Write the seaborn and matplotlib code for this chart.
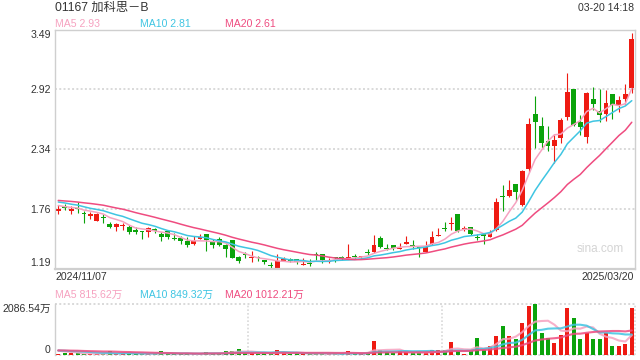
import numpy as np
import pandas as pd
import matplotlib
matplotlib.use("Agg")
import matplotlib.pyplot as plt
import seaborn as sns

# ---- data (HK 01167, daily, 2024/11/07 - 2025/03/20) ----
first_date = "2024/11/07"
last_date = "2025/03/20"
title = "01167 加科思－B"
stamp = "03-20 14:18"

open_ = [1.74, 1.79, 1.74, 1.77, 1.72, 1.70, 1.65, 1.69, 1.62, 1.59,
         1.60, 1.59, 1.56, 1.55, 1.54, 1.57, 1.52, 1.55, 1.48, 1.48,
         1.45, 1.43, 1.47, 1.52, 1.45, 1.47, 1.42, 1.46, 1.30, 1.33,
         1.29, 1.295, 1.27, 1.22, 1.19, 1.265, 1.28, 1.28, 1.227, 1.24,
         1.33, 1.33, 1.25, 1.295, 1.298, 1.29, 1.31, 1.305, 1.345, 1.35,
         1.48, 1.39, 1.42, 1.376, 1.43, 1.417, 1.40, 1.35, 1.43, 1.507,
         1.58, 1.617, 1.71, 1.572, 1.59, 1.488, 1.52, 1.49, 1.56, 1.884,
         1.885, 2.005, 1.80, 2.15, 2.68, 2.565, 2.42, 2.37, 2.445, 2.65,
         2.915, 2.60, 2.455, 2.82, 2.705, 2.675, 2.865, 2.765, 2.82, 2.93]
high = [1.80, 1.81, 1.79, 1.83, 1.74, 1.73, 1.72, 1.71, 1.64, 1.63,
        1.63, 1.61, 1.59, 1.55, 1.59, 1.58, 1.54, 1.56, 1.53, 1.50,
        1.49, 1.50, 1.52, 1.52, 1.47, 1.49, 1.43, 1.46, 1.31, 1.35,
        1.36, 1.31, 1.27, 1.25, 1.33, 1.30, 1.29, 1.28, 1.29, 1.28,
        1.35, 1.33, 1.295, 1.305, 1.31, 1.43, 1.33, 1.31, 1.38, 1.51,
        1.50, 1.43, 1.42, 1.44, 1.50, 1.465, 1.40, 1.45, 1.55, 1.58,
        1.64, 1.69, 1.715, 1.60, 1.59, 1.52, 1.535, 1.56, 1.87, 1.99,
        2.045, 2.005, 2.14, 2.635, 2.85, 2.645, 2.56, 2.47, 2.64, 3.075,
        2.915, 2.665, 2.89, 2.935, 2.915, 2.905, 2.865, 2.85, 2.965, 3.46]
low = [1.71, 1.75, 1.71, 1.72, 1.63, 1.67, 1.65, 1.63, 1.58, 1.55,
       1.56, 1.52, 1.52, 1.47, 1.49, 1.53, 1.45, 1.47, 1.46, 1.43,
       1.40, 1.42, 1.47, 1.36, 1.39, 1.41, 1.30, 1.29, 1.24, 1.29,
       1.25, 1.26, 1.23, 1.19, 1.19, 1.265, 1.255, 1.235, 1.227, 1.217,
       1.27, 1.245, 1.245, 1.255, 1.27, 1.29, 1.28, 1.28, 1.32, 1.34,
       1.39, 1.37, 1.37, 1.376, 1.43, 1.38, 1.30, 1.35, 1.42, 1.50,
       1.55, 1.56, 1.545, 1.555, 1.51, 1.465, 1.425, 1.49, 1.55, 1.745,
       1.875, 1.84, 1.79, 2.115, 2.35, 2.35, 2.32, 2.21, 2.40, 2.62,
       2.56, 2.47, 2.40, 2.72, 2.60, 2.61, 2.63, 2.70, 2.77, 2.88]
close = [1.76, 1.77, 1.76, 1.76, 1.71, 1.71, 1.71, 1.68, 1.59, 1.62,
         1.61, 1.54, 1.54, 1.545, 1.58, 1.55, 1.49, 1.49, 1.47, 1.45,
         1.42, 1.45, 1.49, 1.465, 1.42, 1.42, 1.38, 1.29, 1.26, 1.32,
         1.30, 1.29, 1.25, 1.215, 1.26, 1.28, 1.26, 1.255, 1.233, 1.233,
         1.32, 1.27, 1.265, 1.29, 1.29, 1.305, 1.305, 1.31, 1.34, 1.42,
         1.40, 1.38, 1.39, 1.385, 1.445, 1.41, 1.39, 1.40, 1.49, 1.514,
         1.57, 1.627, 1.55, 1.578, 1.52, 1.482, 1.50, 1.535, 1.83, 1.874,
         1.95, 1.93, 2.13, 2.585, 2.60, 2.40, 2.37, 2.43, 2.615, 2.89,
         2.575, 2.55, 2.875, 2.77, 2.665, 2.78, 2.76, 2.81, 2.865, 3.40]
# volume in 万
volume = [41, 83, 83, 83, 41, 41, 28, 55, 165, 41,
          69, 83, 41, 55, 41, 41, 165, 55, 41, 41,
          55, 41, 41, 124, 55, 55, 165, 165, 248, 69,
          69, 41, 69, 83, 207, 83, 28, 83, 55, 41,
          55, 45, 45, 45, 45, 170, 45, 45, 130, 560,
          200, 115, 72, 172, 130, 72, 86, 72, 215, 215,
          215, 520, 158, 58, 172, 705, 215, 390, 780, 1180,
          780, 650, 1310, 2030, 2086.54, 920, 705, 490, 820, 1945,
          1510, 650, 920, 650, 650, 895, 390, 390, 447, 1950]
# sessions before the window, inferred from where the MA lines start
prev_close = [1.87, 1.85, 1.88, 1.86, 1.84, 1.87, 1.85, 1.86, 1.88, 1.84,
              1.86, 1.88, 1.85, 1.87, 1.86, 1.82, 1.80, 1.79, 1.81]
prev_volume = [180, 210, 160, 240, 190, 150, 220, 170, 200, 260,
               180, 230, 150, 210, 190, 240, 170, 200, 230]

ma_windows = [5, 10, 20]
ma_price_text = ["MA5 2.93", "MA10 2.81", "MA20 2.61"]
ma_vol_text = ["MA5 815.62万", "MA10 849.32万", "MA20 1012.21万"]
price_ticks = [1.19, 1.76, 2.34, 2.92, 3.49]
vol_ticks = [0, 2086.54]
vol_tick_labels = ["0", "2086.54万"]

RED = "#ee1a12"
GREEN = "#0ba30b"
MA_COLORS = ["#f6a2c0", "#3fc5e2", "#ef4c80"]
FRAME = "#cfcfcf"
GRID = "#d9d9d9"
TXT = "#333333"

sns.set_theme(style="white")
plt.rcParams["font.family"] = ["Liberation Sans", "Noto Sans CJK SC", "DejaVu Sans"]

df = pd.DataFrame({"o": open_, "h": high, "l": low, "c": close, "v": volume})
n = len(df)
df["x"] = np.arange(n)
up = df["c"] >= df["o"]
colors = np.where(up, RED, GREEN)

c_all = pd.Series(prev_close + close)
v_all = pd.Series(prev_volume + volume)
k = len(prev_close)
for w in ma_windows:
    df[f"ma{w}"] = c_all.rolling(w).mean().iloc[k:].to_numpy()
    df[f"vma{w}"] = v_all.rolling(w).mean().iloc[k:].to_numpy()

W, H = 640, 360
fig = plt.figure(figsize=(6.4, 3.6), dpi=100)


def fx(x):
    return x / W


def fy(y):
    return 1 - y / H


# --- price panel ---
ax = fig.add_axes([fx(55), fy(268.5), fx(580), (268.5 - 29.5) / H])
ax.vlines(df["x"], df["l"], df["h"], colors=colors, lw=0.8, zorder=2)
body_h = np.maximum((df["c"] - df["o"]).abs(), 0.009)
ax.bar(df["x"], body_h, bottom=np.minimum(df["o"], df["c"]), width=0.76,
       color=colors, linewidth=0, zorder=2)
for w, col in zip(ma_windows, MA_COLORS):
    sns.lineplot(x=df["x"], y=df[f"ma{w}"], ax=ax, color=col, lw=1.1, zorder=3)

ax.set_xlim(-0.5, n - 0.5)
ax.set_ylim(price_ticks[0], price_ticks[-1])
ax.set_yticks(price_ticks)
ax.set_yticklabels([f"{t:.2f}" for t in price_ticks])
ax.set_xticks([])
ax.set_xlabel("")
ax.set_ylabel("")
ax.tick_params(axis="y", length=0, pad=3, labelsize=7.6, labelcolor=TXT)
labs = ax.get_yticklabels()
labs[0].set_va("bottom")
labs[-1].set_va("top")
for t in price_ticks[1:-1]:
    ax.axhline(t, color=GRID, lw=1.4, ls=(0, (1, 1.2)), zorder=1)
for s in ax.spines.values():
    s.set_color(FRAME)
    s.set_linewidth(1)
ax.spines["bottom"].set_linewidth(1.6)

# --- volume panel ---
vx = fig.add_axes([fx(55), fy(355), fx(580), (355 - 304.3) / H])
vx.bar(df["x"], df["v"], width=0.62, color=colors, linewidth=0, zorder=2)
for w, col in zip(ma_windows, MA_COLORS):
    sns.lineplot(x=df["x"], y=df[f"vma{w}"], ax=vx, color=col, lw=1.5,
                 alpha=0.85, zorder=3)
vx.set_xlim(-0.5, n - 0.5)
vx.set_ylim(vol_ticks[0], vol_ticks[-1])
vx.set_yticks(vol_ticks)
vx.set_yticklabels(vol_tick_labels)
vx.set_xticks([])
vx.set_xlabel("")
vx.set_ylabel("")
vx.tick_params(axis="y", length=0, pad=3, labelsize=7.6, labelcolor=TXT)
vl = vx.get_yticklabels()
vl[0].set_va("bottom")
vl[-1].set_va("top")
for s in ["top", "bottom", "right"]:
    vx.spines[s].set_visible(False)
vx.spines["left"].set_color(FRAME)
vx.spines["left"].set_linewidth(1)
x0, x1 = vx.get_xlim()
for t in vol_ticks:
    vx.axhline(t, color=GRID, lw=1.4, ls=(0, (1, 1.2)), zorder=1, clip_on=False)
for frac in (1 / 3, 2 / 3, 1):
    vx.axvline(x0 + (x1 - x0) * frac, color=GRID, lw=1.2, ls=(0, (1, 1.2)),
               zorder=1, clip_on=False)

# --- texts ---
fs = 7.6
fig.text(fx(55), fy(8), title, ha="left", va="center", fontsize=8.8, color=TXT)
fig.text(fx(634), fy(8), stamp, ha="right", va="center", fontsize=fs, color=TXT)
for xpos, txt, col in zip([55, 140, 225], ma_price_text, MA_COLORS):
    fig.text(fx(xpos), fy(24), txt, ha="left", va="center", fontsize=fs, color=col)
for xpos, txt, col in zip([55, 140, 225], ma_vol_text, MA_COLORS):
    fig.text(fx(xpos), fy(295), txt, ha="left", va="center", fontsize=fs, color=col)
fig.text(fx(55), fy(277), first_date, ha="left", va="center", fontsize=fs, color=TXT)
fig.text(fx(634), fy(277), last_date, ha="right", va="center", fontsize=fs, color=TXT)
fig.text(fx(624), fy(249), "sina.com", ha="right", va="center", fontsize=8.5,
         color="#d4d4d4")

fig.savefig("out.png", dpi=100)
